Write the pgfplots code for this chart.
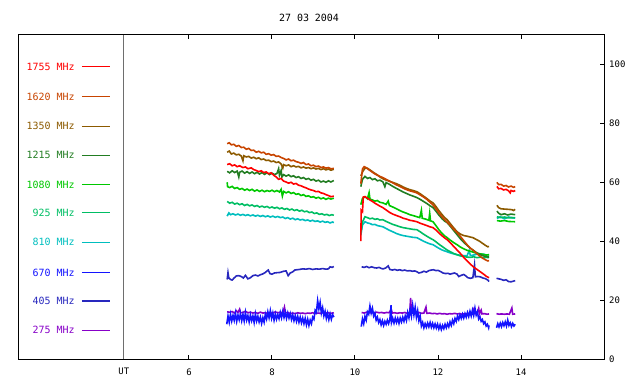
\documentclass[border=0pt]{standalone}
\usepackage{pgfplots}
\pgfplotsset{compat=1.18}
\usepackage{fontspec}
\setmainfont{DejaVu Sans Mono}
\setmonofont{DejaVu Sans Mono}
\definecolor{cA}{RGB}{255,0,0}
\definecolor{cB}{RGB}{200,68,0}
\definecolor{cC}{RGB}{140,90,0}
\definecolor{cD}{RGB}{34,125,34}
\definecolor{cE}{RGB}{0,200,0}
\definecolor{cF}{RGB}{0,190,100}
\definecolor{cG}{RGB}{0,190,190}
\definecolor{cH}{RGB}{20,20,255}
\definecolor{cI}{RGB}{40,40,190}
\definecolor{cJ}{RGB}{135,0,200}
\definecolor{utgray}{RGB}{110,110,110}
\begin{document}
\begin{tikzpicture}[font=\fontsize{9}{10}\selectfont]
\useasboundingbox (-18bp,-25bp) rectangle (622bp,359bp);
\begin{axis}[
  at={(0,0)}, anchor=south west,
  scale only axis, width=586bp, height=324bp,
  xmin=1.88, xmax=16, ymin=0, ymax=110,
  axis line style={black, line width=1bp},
  xtick={6,8,10,12,14}, ytick={0,20,40,60,80,100},
  xtick pos=both, ytick pos=right, yticklabel pos=right,
  xticklabel pos=bottom,
  tick align=inside, major tick length=4bp,
  tick style={black, line width=1bp},
  /pgf/number format/assume math mode=true,
  xticklabel style={inner sep=0pt, anchor=north, yshift=-10bp},
  yticklabel style={inner sep=0pt, anchor=west, xshift=5bp},
  extra x ticks={4.43}, extra x tick labels={UT},
  extra x tick style={major tick length=0bp, xticklabel style={yshift=1bp}},
  unbounded coords=jump,
  every axis plot/.append style={line width=1.6bp, mark=none},
]
% UT separator
\addplot[utgray, line width=1bp] coordinates {(4.43,0)(4.43,110)};
% legend lines and labels
\addplot[cA, line width=1.1bp] coordinates {(3.42,99.2)(4.10,99.2)};
\addplot[cB, line width=1.1bp] coordinates {(3.42,89.0)(4.10,89.0)};
\addplot[cC, line width=1.1bp] coordinates {(3.42,79.0)(4.10,79.0)};
\addplot[cD, line width=1.1bp] coordinates {(3.42,69.2)(4.10,69.2)};
\addplot[cE, line width=1.1bp] coordinates {(3.42,59.2)(4.10,59.2)};
\addplot[cF, line width=1.1bp] coordinates {(3.42,49.6)(4.10,49.6)};
\addplot[cG, line width=1.1bp] coordinates {(3.42,39.7)(4.10,39.7)};
\addplot[cH, line width=1.1bp] coordinates {(3.42,29.4)(4.10,29.4)};
\addplot[cI, line width=1.1bp] coordinates {(3.42,19.7)(4.10,19.7)};
\addplot[cJ, line width=1.1bp] coordinates {(3.42,9.8)(4.10,9.8)};
\begin{scope}[every node/.style={anchor=east, inner sep=0pt, font=\fontsize{10}{11}\selectfont}]
\node[text=cA] at (axis cs:3.25,99.2) {1755 MHz};
\node[text=cB] at (axis cs:3.25,89.0) {1620 MHz};
\node[text=cC] at (axis cs:3.25,79.0) {1350 MHz};
\node[text=cD] at (axis cs:3.25,69.2) {1215 MHz};
\node[text=cE] at (axis cs:3.25,59.2) {1080 MHz};
\node[text=cF] at (axis cs:3.25,49.6) {925 MHz};
\node[text=cG] at (axis cs:3.25,39.7) {810 MHz};
\node[text=cH] at (axis cs:3.25,29.4) {670 MHz};
\node[text=cI] at (axis cs:3.25,19.7) {405 MHz};
\node[text=cJ] at (axis cs:3.25,9.8) {275 MHz};
\end{scope}
% 275 MHz
\addplot[cJ] coordinates {
(6.92,16.0)(6.98,15.9)(7.04,16.1)(7.1,15.6)(7.14,16.4)(7.18,15.8)(7.22,16.9)(7.24,15.7)(7.3,15.8)(7.36,16.2)(7.42,15.7)(7.48,15.9)(7.54,15.6)(7.6,15.8)(7.66,15.5)(7.72,15.9)(7.78,15.6)(7.84,15.7)(7.9,15.5)(7.96,15.8)(8.02,15.6)(8.08,16.0)(8.14,15.7)(8.2,15.9)(8.26,15.6)(8.3,17.6)(8.32,15.7)(8.38,15.8)(8.44,15.4)(8.5,15.6)(8.56,15.4)(8.62,15.7)(8.68,15.5)(8.74,15.6)(8.8,15.4)(8.86,15.6)(8.92,15.5)(8.98,15.7)(9.04,15.4)(9.1,15.6)(9.16,15.5)(9.22,15.7)(9.28,15.5)(9.34,15.8)(9.4,15.5)(9.46,15.6)(9.49,15.7)
(9.8,nan)
(10.16,15.8)(10.22,15.6)(10.28,15.9)(10.34,15.7)(10.4,15.8)(10.46,15.6)(10.52,15.9)(10.58,15.7)(10.64,15.8)(10.7,15.6)(10.76,15.8)(10.82,15.7)(10.87,16.8)(10.9,15.6)(10.96,15.7)(11.02,15.5)(11.08,15.7)(11.14,15.6)(11.2,15.8)(11.26,15.5)(11.32,15.7)(11.34,20.7)(11.36,15.6)(11.42,15.7)(11.48,15.5)(11.54,15.8)(11.6,15.5)(11.66,15.6)(11.71,17.6)(11.73,15.5)(11.8,15.6)(11.86,15.4)(11.92,15.5)(11.98,15.3)(12.04,15.5)(12.1,15.3)(12.16,15.4)(12.22,15.2)(12.28,15.4)(12.34,15.3)(12.4,15.5)(12.46,15.3)(12.52,15.4)(12.58,15.2)(12.64,15.4)(12.7,15.3)(12.76,15.5)(12.82,15.4)(12.86,16.8)(12.88,15.4)(12.94,15.6)(12.98,17.2)(13.0,15.4)(13.04,16.6)(13.06,15.3)(13.12,15.4)(13.18,15.2)(13.23,15.3)
(13.3,nan)
(13.41,15.4)(13.47,15.2)(13.53,15.3)(13.6,15.2)(13.66,15.3)(13.72,15.2)(13.78,17.3)(13.8,15.2)(13.86,15.3)
};
% 670 MHz (noisy bright blue)
\addplot[cH] coordinates {
(6.91,11.8)(6.94,14.6)(6.97,12.5)(7.0,15.2)(7.03,12.9)(7.06,14.8)(7.09,13.1)(7.12,15.6)(7.15,12.8)(7.18,14.9)(7.21,13.3)(7.24,15.4)(7.27,13.0)(7.3,15.1)(7.33,12.9)(7.36,15.8)(7.39,13.2)(7.42,14.7)(7.45,12.6)(7.48,15.0)(7.51,13.0)(7.54,14.6)(7.57,12.4)(7.6,15.3)(7.63,12.9)(7.66,14.5)(7.69,12.6)(7.72,14.2)(7.75,12.1)(7.78,14.0)(7.81,12.5)(7.84,15.2)(7.87,13.6)(7.9,16.0)(7.93,14.0)(7.96,16.4)(7.99,13.8)(8.02,15.6)(8.05,13.2)(8.08,15.3)(8.11,13.5)(8.14,15.1)(8.17,13.7)(8.2,15.8)(8.23,14.0)(8.26,16.2)(8.29,14.1)(8.32,15.9)(8.35,13.8)(8.38,15.6)(8.41,13.9)(8.44,15.4)(8.47,13.4)(8.5,15.0)(8.53,13.0)(8.56,14.7)(8.59,12.8)(8.62,14.5)(8.65,12.5)(8.68,14.2)(8.71,12.3)(8.74,13.9)(8.77,12.0)(8.8,13.8)(8.83,11.6)(8.86,13.5)(8.89,11.4)(8.92,13.2)(8.95,12.0)(8.98,14.2)(9.01,13.5)(9.04,16.5)(9.07,15.8)(9.1,19.8)(9.13,17.0)(9.16,19.2)(9.19,15.6)(9.22,17.4)(9.25,14.6)(9.28,16.2)(9.31,13.8)(9.34,15.6)(9.37,13.4)(9.4,15.3)(9.43,13.5)(9.46,15.1)(9.49,14.2)
(9.8,nan)
(10.15,11.0)(10.18,13.6)(10.21,12.0)(10.24,14.5)(10.27,13.2)(10.3,16.0)(10.33,15.2)(10.36,18.0)(10.39,15.6)(10.42,17.2)(10.45,14.6)(10.48,15.6)(10.51,13.2)(10.54,14.2)(10.57,12.4)(10.6,13.4)(10.63,11.6)(10.66,13.0)(10.69,11.4)(10.72,12.8)(10.75,11.8)(10.78,13.2)(10.81,12.0)(10.84,13.4)(10.87,18.3)(10.88,12.4)(10.91,13.8)(10.94,12.2)(10.97,13.9)(11.0,12.4)(11.03,13.8)(11.06,12.1)(11.09,13.9)(11.12,12.6)(11.15,14.2)(11.18,12.8)(11.21,14.6)(11.24,13.1)(11.27,15.8)(11.3,14.0)(11.33,17.0)(11.36,14.6)(11.39,18.2)(11.42,15.0)(11.45,17.6)(11.48,14.2)(11.51,16.4)(11.54,13.0)(11.57,14.6)(11.6,11.2)(11.63,12.4)(11.66,10.6)(11.69,12.0)(11.72,10.8)(11.75,12.2)(11.78,10.9)(11.81,12.4)(11.84,10.8)(11.87,12.1)(11.9,10.6)(11.93,11.9)(11.96,10.5)(11.99,11.8)(12.02,10.2)(12.05,11.6)(12.08,10.0)(12.11,11.4)(12.14,10.3)(12.17,11.8)(12.2,10.6)(12.23,12.0)(12.26,10.9)(12.29,12.6)(12.32,11.4)(12.35,13.2)(12.38,12.0)(12.41,13.8)(12.44,12.8)(12.47,14.6)(12.5,13.4)(12.53,15.0)(12.56,13.8)(12.59,15.2)(12.62,13.9)(12.65,15.4)(12.68,14.2)(12.71,15.8)(12.74,14.4)(12.77,16.2)(12.8,14.6)(12.83,16.6)(12.86,14.8)(12.89,17.3)(12.92,14.9)(12.95,16.0)(12.98,13.6)(13.01,14.4)(13.04,12.8)(13.07,13.4)(13.1,12.0)(13.13,12.6)(13.16,11.2)(13.19,11.8)(13.22,10.6)(13.23,11.4)
(13.3,nan)
(13.41,10.6)(13.44,12.0)(13.47,10.9)(13.5,12.2)(13.53,11.0)(13.56,12.4)(13.59,11.3)(13.62,12.6)(13.65,11.2)(13.68,13.2)(13.71,11.4)(13.74,12.3)(13.77,11.0)(13.8,12.1)(13.83,11.2)(13.86,11.8)
};
% 405 MHz (dark blue, ~28)
\addplot[cI] coordinates {
(6.92,27.0)(6.94,29.3)(6.96,27.5)(7.0,27.0)(7.04,26.8)(7.08,27.4)(7.14,28.2)(7.2,28.3)(7.26,28.0)(7.31,27.5)(7.36,28.4)(7.42,27.2)(7.48,27.6)(7.54,28.3)(7.6,28.5)(7.66,28.2)(7.72,28.6)(7.78,28.9)(7.83,29.3)(7.91,30.2)(7.95,29.0)(8.0,28.8)(8.06,29.2)(8.12,29.3)(8.2,29.4)(8.28,29.8)(8.34,29.9)(8.39,28.3)(8.44,29.2)(8.5,29.6)(8.55,30.2)(8.6,30.3)(8.66,30.4)(8.74,30.6)(8.82,30.5)(8.9,30.7)(8.98,30.4)(9.06,30.6)(9.14,30.5)(9.22,30.7)(9.3,30.5)(9.36,30.6)(9.4,31.3)(9.45,31.1)(9.49,31.4)
(9.8,nan)
(10.16,31.3)(10.22,31.1)(10.28,31.4)(10.34,31.0)(10.4,31.3)(10.46,31.0)(10.52,30.9)(10.58,31.1)(10.64,30.7)(10.68,30.6)(10.74,30.9)(10.8,31.6)(10.84,30.4)(10.9,30.2)(10.96,30.4)(11.02,30.1)(11.08,30.3)(11.14,30.0)(11.2,30.2)(11.26,29.9)(11.32,30.0)(11.38,29.8)(11.44,29.9)(11.48,29.7)(11.54,29.2)(11.6,29.4)(11.66,29.8)(11.72,29.5)(11.78,30.0)(11.84,30.2)(11.89,30.3)(11.95,30.0)(12.0,30.1)(12.06,29.7)(12.12,29.2)(12.18,29.0)(12.24,29.1)(12.29,28.8)(12.34,29.0)(12.4,29.2)(12.46,28.8)(12.5,28.0)(12.56,28.4)(12.62,28.7)(12.67,28.2)(12.72,27.6)(12.78,27.4)(12.84,27.6)(12.88,31.9)(12.9,27.9)(12.96,28.0)(13.02,27.9)(13.08,27.5)(13.14,27.3)(13.2,26.8)(13.23,26.3)
(13.3,nan)
(13.41,27.4)(13.47,27.2)(13.53,27.0)(13.58,26.7)(13.64,26.9)(13.7,26.3)(13.76,26.2)(13.81,26.4)(13.86,26.6)
};
% 810 MHz
\addplot[cG] coordinates {
(6.92,48.5)(6.96,49.6)(7.0,49.0)(7.06,49.3)(7.12,48.9)(7.18,49.2)(7.24,48.8)(7.3,49.1)(7.36,48.7)(7.42,49.0)(7.48,48.6)(7.54,48.9)(7.6,48.5)(7.66,48.8)(7.72,48.4)(7.78,48.7)(7.84,48.3)(7.9,48.6)(7.96,48.2)(8.02,48.5)(8.08,48.1)(8.14,48.4)(8.2,48.0)(8.26,48.2)(8.32,47.7)(8.38,48.0)(8.44,47.5)(8.5,47.8)(8.56,47.3)(8.62,47.6)(8.68,47.2)(8.74,47.4)(8.8,47.0)(8.86,47.2)(8.92,46.8)(8.98,47.1)(9.04,46.7)(9.1,46.9)(9.16,46.5)(9.22,46.8)(9.28,46.4)(9.34,46.6)(9.4,46.2)(9.46,46.5)(9.49,46.3)
(9.8,nan)
(10.14,42.0)(10.18,45.5)(10.24,46.6)(10.3,46.2)(10.36,46.0)(10.42,45.6)(10.48,45.7)(10.54,45.3)(10.6,45.1)(10.67,44.9)(10.75,44.3)(10.83,43.7)(10.91,43.2)(11.0,42.6)(11.08,42.2)(11.16,41.9)(11.24,41.7)(11.32,41.5)(11.4,41.3)(11.49,41.2)(11.57,40.6)(11.65,40.0)(11.73,39.5)(11.8,39.1)(11.88,38.8)(11.95,38.2)(12.02,37.6)(12.1,37.0)(12.16,36.7)(12.22,36.4)(12.3,36.0)(12.38,35.7)(12.46,35.4)(12.54,35.2)(12.62,35.1)(12.7,35.0)(12.75,36.8)(12.78,35.1)(12.86,35.3)(12.94,35.6)(13.02,35.4)(13.1,35.6)(13.16,35.3)(13.23,35.4)
(13.3,nan)
(13.42,47.7)(13.5,48.3)(13.6,47.6)(13.7,48.2)(13.86,47.8)
};
% 925 MHz
\addplot[cF] coordinates {
(6.92,53.5)(6.98,52.9)(7.04,53.2)(7.1,52.6)(7.16,52.9)(7.22,52.4)(7.28,52.7)(7.34,52.1)(7.4,52.5)(7.46,52.0)(7.52,52.3)(7.58,51.8)(7.64,52.1)(7.7,51.6)(7.76,51.9)(7.82,51.5)(7.88,51.8)(7.94,51.3)(8.0,51.6)(8.06,51.2)(8.12,51.5)(8.18,51.0)(8.24,51.3)(8.3,50.8)(8.36,51.1)(8.42,50.6)(8.48,50.9)(8.54,50.4)(8.6,50.7)(8.66,50.2)(8.72,50.5)(8.78,50.0)(8.84,50.2)(8.9,49.7)(8.96,49.9)(9.02,49.4)(9.08,49.6)(9.14,49.1)(9.2,49.3)(9.26,48.9)(9.32,49.1)(9.38,48.7)(9.44,49.0)(9.49,48.8)
(9.8,nan)
(10.14,43.0)(10.18,46.5)(10.24,48.3)(10.3,48.0)(10.36,47.6)(10.42,47.8)(10.48,47.4)(10.54,47.6)(10.6,47.2)(10.67,47.3)(10.75,46.7)(10.83,46.2)(10.91,45.7)(11.0,45.3)(11.08,44.9)(11.16,44.6)(11.24,44.4)(11.32,44.2)(11.4,44.0)(11.49,43.9)(11.57,43.2)(11.65,42.4)(11.73,41.7)(11.8,41.1)(11.88,40.5)(11.95,39.8)(12.02,39.0)(12.1,38.2)(12.16,37.6)(12.22,37.0)(12.3,36.4)(12.38,35.8)(12.46,35.4)(12.54,35.0)(12.62,34.8)(12.7,34.6)(12.78,34.5)(12.86,34.7)(12.94,34.4)(13.02,34.6)(13.1,34.3)(13.16,34.5)(13.23,34.4)
(13.3,nan)
(13.42,48.3)(13.5,48.0)(13.6,48.2)(13.7,47.9)(13.86,48.0)
};
% 1080 MHz
\addplot[cE] coordinates {
(6.92,60.0)(6.93,58.5)(6.98,58.2)(7.04,58.6)(7.1,57.9)(7.16,58.2)(7.22,57.6)(7.28,57.9)(7.34,57.3)(7.4,57.7)(7.46,57.2)(7.52,57.6)(7.58,57.0)(7.64,57.4)(7.7,56.9)(7.76,57.3)(7.82,56.8)(7.88,57.2)(7.94,56.9)(8.0,57.3)(8.06,56.8)(8.12,57.2)(8.18,56.7)(8.22,57.6)(8.25,55.3)(8.28,56.9)(8.34,56.4)(8.4,56.8)(8.46,56.2)(8.52,56.5)(8.58,55.9)(8.64,56.1)(8.7,55.5)(8.76,55.8)(8.82,55.2)(8.88,55.4)(8.94,54.9)(9.0,55.1)(9.06,54.6)(9.12,54.9)(9.18,54.4)(9.24,54.7)(9.3,54.2)(9.36,54.6)(9.42,54.3)(9.49,54.6)
(9.8,nan)
(10.14,52.4)(10.18,54.5)(10.24,55.1)(10.3,54.4)(10.34,56.5)(10.36,54.3)(10.42,54.0)(10.48,53.6)(10.54,53.8)(10.6,53.2)(10.67,53.0)(10.75,52.5)(10.8,53.6)(10.83,52.1)(10.91,51.6)(11.0,51.0)(11.08,50.4)(11.16,49.9)(11.24,49.5)(11.32,49.0)(11.4,48.7)(11.49,48.3)(11.56,48.0)(11.6,50.5)(11.62,47.8)(11.7,47.5)(11.78,47.1)(11.8,49.5)(11.82,46.9)(11.88,46.6)(11.95,45.3)(12.02,43.9)(12.1,42.6)(12.16,41.8)(12.22,41.2)(12.3,40.3)(12.38,39.5)(12.46,38.8)(12.54,38.0)(12.62,37.4)(12.7,36.9)(12.78,36.6)(12.86,36.2)(12.94,35.9)(13.02,35.7)(13.1,35.5)(13.16,35.3)(13.23,35.4)
(13.3,nan)
(13.42,47.0)(13.5,46.8)(13.6,47.0)(13.7,46.7)(13.86,46.6)
};
% 1215 MHz
\addplot[cD] coordinates {
(6.92,63.7)(6.98,63.2)(7.04,63.9)(7.1,63.3)(7.16,63.8)(7.2,61.8)(7.22,63.4)(7.28,63.8)(7.34,63.1)(7.4,63.6)(7.46,63.0)(7.52,63.5)(7.58,62.9)(7.64,63.4)(7.7,62.8)(7.76,63.3)(7.82,62.7)(7.88,63.2)(7.94,62.6)(8.0,63.1)(8.06,62.6)(8.12,63.0)(8.16,64.6)(8.18,62.4)(8.22,64.0)(8.24,61.8)(8.28,62.6)(8.34,62.1)(8.4,62.5)(8.46,61.9)(8.52,62.2)(8.58,61.6)(8.64,61.9)(8.7,61.3)(8.76,61.6)(8.82,61.0)(8.88,61.3)(8.94,60.7)(9.0,61.0)(9.06,60.4)(9.12,60.7)(9.18,60.1)(9.24,60.4)(9.3,60.0)(9.36,60.5)(9.42,60.1)(9.49,60.6)
(9.8,nan)
(10.14,58.5)(10.18,61.0)(10.24,62.0)(10.3,61.3)(10.36,61.6)(10.42,60.9)(10.48,61.2)(10.54,60.5)(10.6,60.7)(10.67,60.2)(10.72,58.5)(10.75,59.9)(10.83,59.3)(10.91,58.6)(11.0,57.9)(11.08,57.3)(11.16,56.7)(11.24,56.2)(11.32,55.7)(11.4,55.3)(11.49,54.8)(11.57,54.2)(11.65,53.5)(11.73,52.8)(11.8,52.1)(11.88,51.4)(11.95,50.2)(12.02,48.9)(12.1,47.6)(12.16,46.8)(12.22,46.3)(12.3,45.0)(12.38,43.6)(12.46,42.2)(12.54,40.8)(12.62,39.6)(12.7,38.6)(12.78,37.6)(12.86,36.8)(12.94,36.0)(13.02,35.4)(13.1,35.0)(13.16,34.8)(13.23,34.6)
(13.3,nan)
(13.42,50.2)(13.46,49.5)(13.52,49.0)(13.6,49.3)(13.68,48.9)(13.76,49.2)(13.86,49.0)
};
% 1350 MHz
\addplot[cC] coordinates {
(6.92,70.2)(6.97,70.6)(7.02,69.6)(7.08,69.9)(7.14,69.3)(7.2,69.5)(7.26,68.9)(7.3,67.3)(7.32,69.0)(7.38,68.6)(7.44,68.8)(7.5,68.2)(7.56,68.5)(7.62,68.0)(7.68,68.3)(7.74,67.7)(7.8,67.9)(7.86,67.4)(7.92,67.5)(7.98,67.0)(8.04,67.2)(8.1,66.7)(8.16,66.9)(8.22,66.2)(8.26,64.8)(8.28,66.0)(8.34,65.6)(8.4,65.9)(8.46,65.3)(8.52,65.6)(8.58,65.2)(8.64,65.4)(8.7,64.9)(8.76,65.2)(8.82,64.8)(8.88,65.0)(8.94,64.6)(9.0,64.9)(9.06,64.5)(9.12,64.7)(9.18,64.3)(9.24,64.6)(9.3,64.2)(9.36,64.5)(9.42,64.1)(9.49,64.4)
(9.8,nan)
(10.14,62.2)(10.2,64.0)(10.26,65.0)(10.32,64.6)(10.38,64.0)(10.46,63.2)(10.54,62.5)(10.62,61.6)(10.7,61.0)(10.78,60.6)(10.86,60.2)(10.92,59.9)(11.0,59.5)(11.08,59.0)(11.16,58.4)(11.24,57.9)(11.32,57.5)(11.4,57.2)(11.49,56.8)(11.57,56.1)(11.65,55.3)(11.73,54.5)(11.8,53.7)(11.88,53.0)(11.95,51.8)(12.02,50.4)(12.1,49.0)(12.16,48.0)(12.22,47.3)(12.3,45.9)(12.38,44.5)(12.46,43.2)(12.54,42.4)(12.62,41.9)(12.7,41.7)(12.78,41.4)(12.84,41.2)(12.92,40.6)(13.0,40.0)(13.08,39.2)(13.14,38.6)(13.2,38.1)(13.23,38.2)
(13.3,nan)
(13.42,52.2)(13.46,51.4)(13.52,51.0)(13.6,50.9)(13.7,50.8)(13.78,50.7)(13.82,50.4)(13.86,50.8)
};
% 1620 MHz
\addplot[cB] coordinates {
(6.92,73.1)(6.97,73.4)(7.02,72.7)(7.08,72.9)(7.14,72.2)(7.2,72.5)(7.26,71.8)(7.32,71.9)(7.38,71.2)(7.44,71.5)(7.5,70.8)(7.56,70.9)(7.62,70.2)(7.68,70.5)(7.74,70.0)(7.8,70.2)(7.86,69.5)(7.92,69.7)(7.98,69.2)(8.04,69.4)(8.1,68.8)(8.16,68.9)(8.22,68.4)(8.28,68.1)(8.34,67.6)(8.4,67.9)(8.46,67.3)(8.52,67.5)(8.58,67.0)(8.64,66.8)(8.7,66.4)(8.76,66.7)(8.82,66.0)(8.88,66.2)(8.94,65.6)(9.0,65.8)(9.06,65.3)(9.12,65.5)(9.18,65.0)(9.24,65.2)(9.3,64.8)(9.36,65.0)(9.42,64.6)(9.49,64.7)
(9.8,nan)
(10.14,59.5)(10.18,64.5)(10.22,65.3)(10.28,64.8)(10.34,64.2)(10.4,63.6)(10.46,63.0)(10.52,62.5)(10.6,62.0)(10.67,61.6)(10.75,61.0)(10.83,60.4)(10.91,59.8)(11.0,59.1)(11.08,58.6)(11.16,58.0)(11.24,57.5)(11.32,57.1)(11.4,56.8)(11.49,56.4)(11.57,55.7)(11.65,55.0)(11.73,54.2)(11.8,53.3)(11.88,52.3)(11.95,51.0)(12.02,49.6)(12.1,48.2)(12.16,47.3)(12.22,46.5)(12.3,45.3)(12.38,44.0)(12.46,42.9)(12.54,41.6)(12.62,40.2)(12.7,38.8)(12.78,37.6)(12.84,37.0)(12.92,36.0)(13.0,35.0)(13.08,34.2)(13.14,33.7)(13.2,33.3)(13.23,33.4)
(13.3,nan)
(13.42,60.0)(13.46,59.2)(13.52,59.3)(13.58,58.7)(13.64,58.9)(13.7,58.4)(13.76,58.7)(13.82,58.3)(13.86,58.5)
};
% 1755 MHz
\addplot[cA] coordinates {
(6.92,66.0)(6.98,66.3)(7.04,65.6)(7.1,65.9)(7.16,65.3)(7.22,65.6)(7.3,65.0)(7.36,65.2)(7.42,64.6)(7.5,64.9)(7.56,64.3)(7.62,64.0)(7.68,63.6)(7.74,63.9)(7.8,63.3)(7.86,63.5)(7.92,62.9)(7.98,63.2)(8.04,62.4)(8.1,61.8)(8.16,61.0)(8.22,61.3)(8.28,60.4)(8.34,60.1)(8.4,59.7)(8.46,60.0)(8.52,59.4)(8.58,59.6)(8.64,59.0)(8.7,58.8)(8.76,58.4)(8.82,58.1)(8.88,57.7)(8.94,57.4)(9.0,57.2)(9.06,56.8)(9.12,56.9)(9.18,56.4)(9.24,56.2)(9.3,55.8)(9.36,55.5)(9.42,55.1)(9.49,55.3)
(9.8,nan)
(10.14,40.0)(10.15,50.5)(10.18,50.0)(10.2,55.0)(10.24,55.1)(10.3,54.6)(10.36,54.0)(10.42,53.5)(10.48,52.9)(10.54,52.4)(10.6,51.9)(10.67,51.4)(10.75,50.6)(10.83,49.8)(10.91,49.2)(11.0,48.7)(11.08,48.3)(11.16,47.8)(11.24,47.5)(11.32,47.1)(11.4,46.9)(11.49,46.6)(11.57,46.1)(11.65,45.7)(11.73,45.3)(11.8,44.9)(11.88,44.6)(11.95,43.8)(12.02,42.8)(12.1,41.8)(12.16,41.1)(12.22,40.5)(12.3,39.4)(12.38,38.2)(12.46,37.0)(12.54,35.8)(12.62,34.5)(12.7,33.3)(12.78,32.2)(12.86,31.2)(12.94,30.4)(13.02,29.6)(13.1,28.8)(13.16,28.1)(13.23,27.6)
(13.3,nan)
(13.42,58.6)(13.46,57.8)(13.52,57.9)(13.58,57.4)(13.64,57.6)(13.7,57.1)(13.74,56.4)(13.76,57.2)(13.82,56.9)(13.86,57.2)
};
\end{axis}
\node[font=\fontsize{10}{11}\selectfont] at (291bp,341bp) {27 03 2004};
\end{tikzpicture}
\end{document}
